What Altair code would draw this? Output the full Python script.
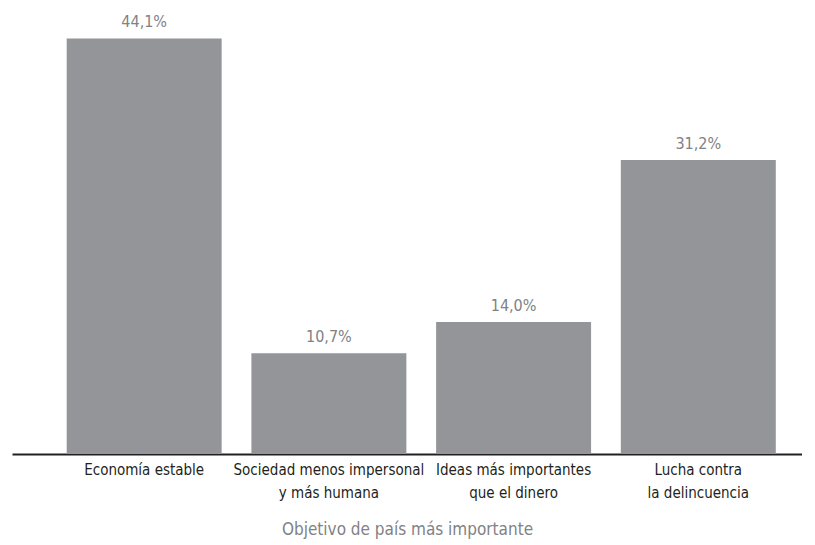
import altair as alt
import pandas as pd

categories = [
    "Economía estable",
    "Sociedad menos impersonal|y más humana",
    "Ideas más importantes|que el dinero",
    "Lucha contra|la delincuencia",
]
values = [44.1, 10.7, 14.0, 31.2]
axis_title = "Objetivo de país más importante"

df = pd.DataFrame({"cat": categories, "v": values})

FONT = "Liberation Sans Narrow, DejaVu Sans Condensed, sans-serif"

x = alt.X(
    "cat:N",
    sort=categories,
    scale=alt.Scale(paddingInner=0.161, paddingOuter=0.219, align=0.676),
    axis=alt.Axis(
        title=axis_title,
        labelAngle=0,
        labelExpr="split(datum.label, '|')",
        labelFont=FONT,
        labelFontSize=15,
        labelColor="#231f20",
        labelLineHeight=23,
        labelLimit=0,
        labelPadding=8,
        ticks=False,
        domainColor="#231f20",
        domainWidth=2,
        titleFont=FONT,
        titleFontSize=17,
        titleFontWeight="normal",
        titleColor="#808285",
        titlePadding=21,
    ),
)
y = alt.Y("v:Q", scale=alt.Scale(domain=[0, 45]), axis=None)

base = alt.Chart(df).encode(x=x, y=y)

bars = base.mark_bar(color="#939598")
labels = base.transform_calculate(
    lbl="replace(format(datum.v, '.1f'), '.', ',') + '%'"
).mark_text(
    font=FONT, fontSize=16, color="#808285", baseline="alphabetic", dy=-11
).encode(text="lbl:N")

chart = (
    (bars + labels)
    .properties(width=790, height=424, padding={"left": 4, "top": 6, "right": 0, "bottom": 2})
    .configure_view(stroke=None)
    .configure_axis(grid=False)
)

chart.save("out.html", embed_options={"renderer": "svg", "actions": False})
